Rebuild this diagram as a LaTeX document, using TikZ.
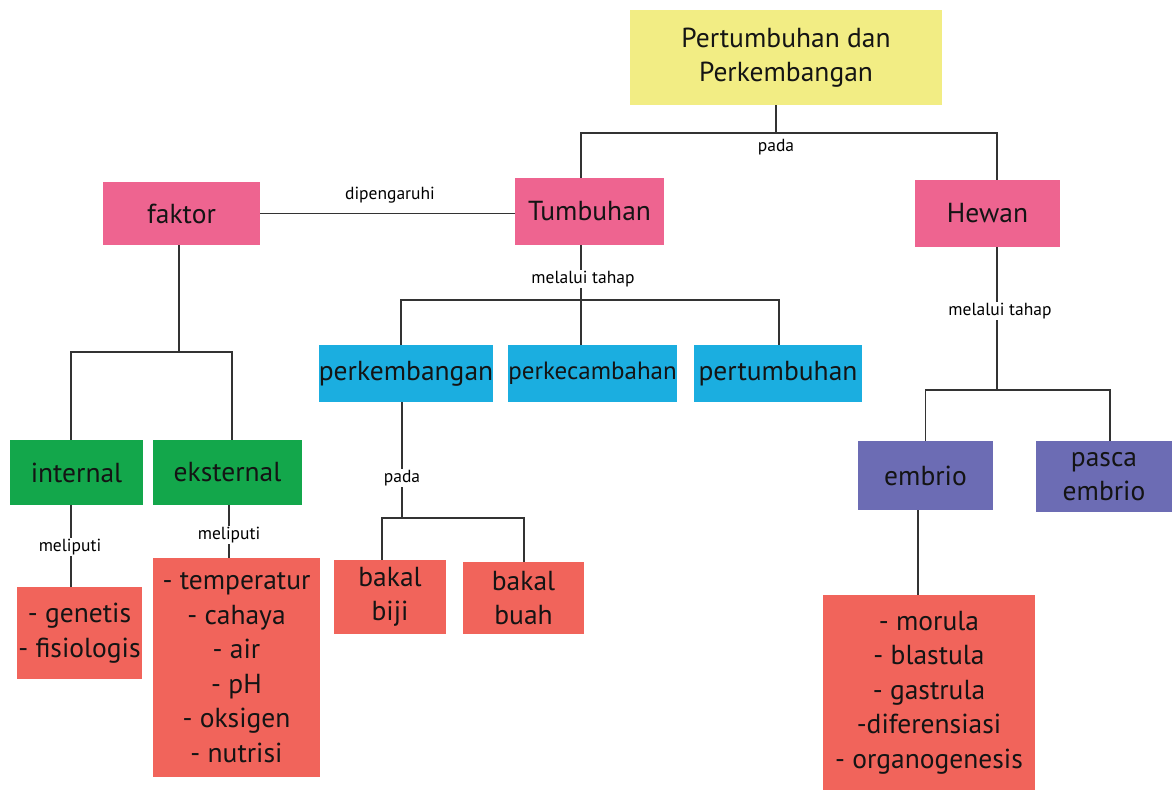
\documentclass[tikz,border=0pt]{standalone}
\usepackage{fontspec}
\setmainfont{PT Sans}
\usepackage{xcolor}
\definecolor{cyellow}{HTML}{F2ED84}
\definecolor{cpink}{HTML}{EE6490}
\definecolor{cgreen}{HTML}{13A74B}
\definecolor{cblue}{HTML}{1BAEE0}
\definecolor{cpurple}{HTML}{6C6CB4}
\definecolor{csalmon}{HTML}{F1645B}
\tikzset{box/.style={align=center, inner sep=0pt, text=black!92, font=\fontsize{27.5}{34.5}\selectfont},
  lbl/.style={fill=white, inner sep=1.5pt, font=\fontsize{17.5}{20}\selectfont},
  conn/.style={line width=1.8pt, draw=black!80}}

\begin{document}
\begin{tikzpicture}[x=1pt, y=-1pt]
    \useasboundingbox (0,0) rectangle (1172,794);

    \draw (786,57.5) node[box, fill=cyellow, minimum width=312, minimum height=95](top){Pertumbuhan dan\\Perkembangan};
    \draw (589.5,211.5) node[box, fill=cpink, minimum width=149, minimum height=67](tumb){Tumbuhan};
    \draw (987.5,213.5) node[box, fill=cpink, minimum width=145, minimum height=67](hewan){Hewan};
    \draw (181.5,213.5) node[box, fill=cpink, minimum width=157, minimum height=63](faktor){faktor};

    \draw (406,373.5) node[box, fill=cblue, minimum width=172, minimum height=57](perkemb){perkembangan};
    \draw (592.5,373.5) node[box, fill=cblue, minimum width=167, minimum height=57, font=\fontsize{25}{30}\selectfont](perkec){perkecambahan};
    \draw (778,373.5) node[box, fill=cblue, minimum width=168, minimum height=57](pertumb){pertumbuhan};

    \draw (76.5,472.5) node[box, fill=cgreen, minimum width=133, minimum height=65](internal){internal};
    \draw (227.5,472.5) node[box, fill=cgreen, minimum width=149, minimum height=65](eksternal){eksternal};
    \draw (79.5,633) node[box, fill=csalmon, minimum width=125, minimum height=92](intlist){- genetis\\- fisiologis};
    \draw (236.5,667.5) node[box, fill=csalmon, minimum width=167, minimum height=219](ekslist){- temperatur\\- cahaya\\- air\\- pH\\- oksigen\\- nutrisi};

    \draw (390,597) node[box, fill=csalmon, minimum width=112, minimum height=74](biji){bakal\\biji};
    \draw (523.5,598) node[box, fill=csalmon, minimum width=121, minimum height=72](buah){bakal\\buah};

    \draw (925.5,475.5) node[box, fill=cpurple, minimum width=135, minimum height=69](embrio){embrio};
    \draw (1104,476.5) node[box, fill=cpurple, minimum width=136, minimum height=71](pasca){pasca\\embrio};
    \draw (929,692.5) node[box, fill=csalmon, minimum width=212, minimum height=195](embrlist){- morula\\- blastula\\- gastrula\\-diferensiasi\\- organogenesis};

    \coordinate (jtop) at (776,133);
    \coordinate (jfak) at (179,352);
    \coordinate (jtum) at (581,300);
    \coordinate (jper) at (402,518);
    \coordinate (jhew) at (997,390);

    \draw [conn] (jtop |- top.south) -- (jtop);
    \draw [conn] ([xshift=-8.5]tumb.north) |- (jtop) -| ([xshift=9.5]hewan.north);
    \draw (776,147) node[lbl](pada1){pada};

    \draw [conn] (faktor.east) -- (faktor.east -| tumb.west);
    \draw (390,195) node[lbl](pengaruh){dipengaruhi};

    \draw [conn] (faktor.south -| jfak) -- (jfak);
    \draw [conn] ([xshift=-5.5]internal.north) |- (jfak) -| ([xshift=4.5]eksternal.north);
    \draw [conn] ([xshift=-5.5]internal.south) -- ([xshift=-8.5]intlist.north);
    \draw [conn] ([xshift=1.5]eksternal.south) -- ([xshift=-7.5]ekslist.north);
    \draw (70,547) node[lbl](liputi1){meliputi};
    \draw (229,535) node[lbl](liputi2){meliputi};

    \draw [conn] (tumb.south -| jtum) -- (jtum);
    \draw [conn] ([xshift=-5]perkemb.north) |- (jtum) -| ([xshift=1]pertumb.north);
    \draw [conn] (jtum) -- (jtum |- perkec.north);
    \draw (583,279) node[lbl](tahap1){melalui tahap};

    \draw [conn] (perkemb.south -| jper) -- (jper);
    \draw [conn] ([xshift=-8]biji.north) |- (jper) -| ([xshift=0.5]buah.north);
    \draw (402,478) node[lbl](pada2){pada};

    \draw [conn] (hewan.south -| jhew) -- (jhew);
    \draw [conn] (embrio.north) |- (jhew) -| ([xshift=6]pasca.north);
    \draw [conn] ([xshift=-7.5]embrio.south) -- ([xshift=-11]embrlist.north);
    \draw (1000,311) node[lbl](tahap2){melalui tahap};

\end{tikzpicture}
\end{document}
